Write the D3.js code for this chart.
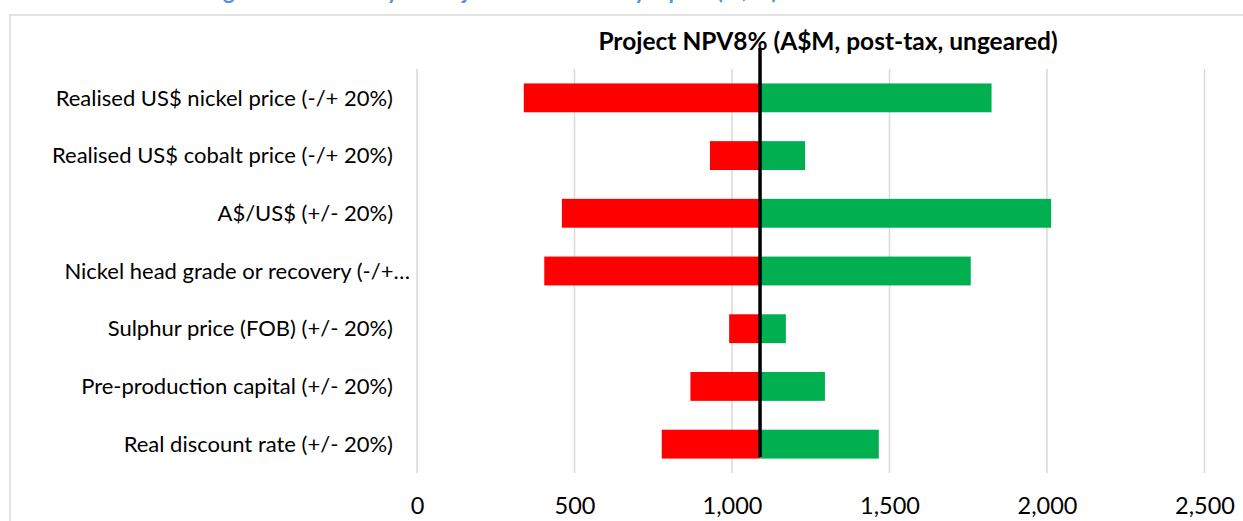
<!DOCTYPE html>
<html>
<head>
<meta charset="utf-8">
<script src="https://cdn.jsdelivr.net/npm/d3@7"></script>
<style>
  html, body { margin: 0; padding: 0; background: #fff; }
  svg { display: block; }
  text { font-family: Lato, "Open Sans", sans-serif; }
</style>
</head>
<body>
<svg id="chart" width="1243" height="521"></svg>
<script>
// Sensitivity of project NPV (A$M) to +/- 20% changes in key inputs
const categories = [
  "Realised US$ nickel price (-/+ 20%)",
  "Realised US$ cobalt price (-/+ 20%)",
  "A$/US$ (+/- 20%)",
  "Nickel head grade or recovery (-/+…",
  "Sulphur price (FOB) (+/- 20%)",
  "Pre-production capital (+/- 20%)",
  "Real discount rate (+/- 20%)"
];
const baseNPV = 1089;
const downside = [339, 930, 460, 404, 991, 868, 777];
const upside = [1824, 1232, 2013, 1758, 1171, 1295, 1466];
const tickValues = [0, 500, 1000, 1500, 2000, 2500];
const chartTitle = "Project NPV8% (A$M, post-tax, ungeared)";
const figureCaption = "Figure 1: Sensitivity of Project NPV8% to key inputs (A$M)";

const svg = d3.select("#chart");

// caption of the figure above the chart frame
svg.append("text")
  .attr("x", 205)
  .attr("y", -1)
  .attr("font-size", 22)
  .attr("font-weight", "bold")
  .attr("fill", "#5B8DD9")
  .text(figureCaption);

// chart frame
svg.append("rect")
  .attr("x", 10).attr("y", 15)
  .attr("width", 1260).attr("height", 540)
  .attr("fill", "#fff")
  .attr("stroke", "#d9d9d9")
  .attr("stroke-width", 1.5);

const x = d3.scaleLinear().domain([0, 2500]).range([417, 1204.5]);
const y = d3.scaleBand().domain(categories).range([69, 473])
  .paddingInner(0.5).paddingOuter(0.25);

// vertical gridlines
svg.append("g").selectAll("line")
  .data(tickValues)
  .join("line")
  .attr("x1", d => x(d)).attr("x2", d => x(d))
  .attr("y1", 69).attr("y2", 473)
  .attr("stroke", "#d9d9d9")
  .attr("stroke-width", 1.5);

// downside bars (red)
svg.append("g").selectAll("rect")
  .data(categories)
  .join("rect")
  .attr("x", (d, i) => x(downside[i]))
  .attr("width", (d, i) => x(baseNPV) - x(downside[i]))
  .attr("y", d => y(d))
  .attr("height", y.bandwidth())
  .attr("fill", "#FF0000");

// upside bars (green)
svg.append("g").selectAll("rect")
  .data(categories)
  .join("rect")
  .attr("x", x(baseNPV))
  .attr("width", (d, i) => x(upside[i]) - x(baseNPV))
  .attr("y", d => y(d))
  .attr("height", y.bandwidth())
  .attr("fill", "#00B050");

// base case line
svg.append("line")
  .attr("x1", x(baseNPV)).attr("x2", x(baseNPV))
  .attr("y1", 48).attr("y2", 457)
  .attr("stroke", "#000")
  .attr("stroke-width", 3.5);

// category labels
svg.append("g").selectAll("text")
  .data(categories)
  .join("text")
  .attr("x", d => d.endsWith("…") ? 410 : 393)
  .attr("y", d => y(d) + y.bandwidth() / 2)
  .attr("dy", "0.35em")
  .attr("text-anchor", "end")
  .attr("font-size", 22)
  .attr("fill", "#000")
  .text(d => d);

// x axis tick labels
const axis = d3.axisBottom(x)
  .tickValues(tickValues)
  .tickFormat(d3.format(","))
  .tickSize(0)
  .tickPadding(0);
const axisG = svg.append("g")
  .attr("transform", "translate(0,497)")
  .call(axis);
axisG.select(".domain").remove();
axisG.selectAll("text")
  .attr("font-family", "Lato, 'Open Sans', sans-serif")
  .attr("font-size", 23.5)
  .attr("fill", "#000");

// chart title
svg.append("text")
  .attr("x", 828)
  .attr("y", 50)
  .attr("text-anchor", "middle")
  .attr("font-size", 24.5)
  .attr("font-weight", "bold")
  .attr("fill", "#000")
  .text(chartTitle);
</script>
</body>
</html>
